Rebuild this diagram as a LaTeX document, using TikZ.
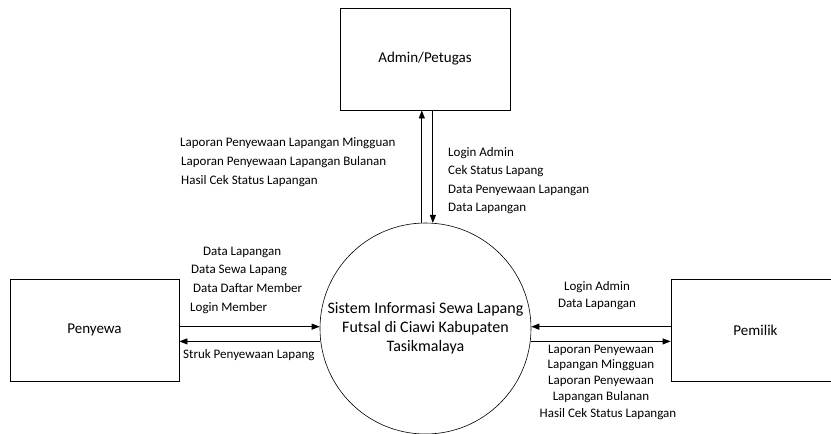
\documentclass[tikz,border=0pt]{standalone}
\usepackage{fontspec}
\setmainfont{Carlito}
\usetikzlibrary{arrows.meta}

\begin{document}
\begin{tikzpicture}[x=1pt,y=-1pt,
  entity/.style={draw, line width=0.8pt, minimum width=169pt, minimum height=102pt, inner sep=0pt, font=\fontsize{15}{18}\selectfont},
  proc/.style={draw, circle, line width=0.6pt, minimum size=211pt, inner sep=0pt, align=center, font=\fontsize{16}{19}\selectfont},
  flow/.style={line width=0.8pt, -{Triangle[length=8pt,width=6pt]}},
  lbl/.style={inner sep=0pt, font=\fontsize{13}{19}\selectfont}]
\useasboundingbox (0,0) rectangle (831,434);
% entities and the process
\node[entity, minimum width=170pt] (admin) at (425,59) {Admin/Petugas};
\node[entity] (penyewa) at (94.5,330) {Penyewa};
\node[entity] (pemilik) at (755.5,330) {Pemilik};
\node[proc] (sys) at (425.5,328.5) {Sistem Informasi Sewa Lapang\\Futsal di Ciawi Kabupaten\\Tasikmalaya};
% admin flows
\draw[flow] (sys.92) -- (sys.92 |- admin.south);
\draw[flow] (sys.86 |- admin.south) -- (sys.86);
\node[lbl, anchor=west, align=left] (lapadmin) at (180,162) {Laporan Penyewaan Lapangan Mingguan\\\hspace*{1pt}Laporan Penyewaan Lapangan Bulanan\\\hspace*{1pt}Hasil Cek Status Lapangan};
\node[lbl, anchor=west, align=left, font=\fontsize{13}{18.3}\selectfont] (inadmin) at (448,180.5) {Login Admin\\Cek Status Lapang\\Data Penyewaan Lapangan\\Data Lapangan};
% penyewa flows
\draw[flow] (sys.179 -| penyewa.east) -- (sys.179);
\draw[flow] (sys.187) -- (sys.187 -| penyewa.east);
\node[lbl, anchor=west, align=left, font=\fontsize{13}{18.7}\selectfont] (inpenyewa) at (190,280) {\hspace*{13pt}Data Lapangan\\\hspace*{1pt}Data Sewa Lapang\\\hspace*{3pt}Data Daftar Member\\Login Member};
\node[lbl, anchor=west] (struk) at (183,355) {Struk Penyewaan Lapang};
% pemilik flows
\draw[flow] (sys.1 -| pemilik.west) -- (sys.1);
\draw[flow] (sys.353) -- (sys.353 -| pemilik.west);
\node[lbl, align=center, font=\fontsize{13}{17}\selectfont] (inpemilik) at (597,295.5) {Login Admin\\Data Lapangan};
\node[lbl, align=center, font=\fontsize{13}{15.7}\selectfont] (lappemilik) at (601,373.5) {Laporan Penyewaan\\Lapangan Mingguan\\Laporan Penyewaan\\Lapangan Bulanan};
\node[lbl] (hasilpemilik) at (608,414) {Hasil Cek Status Lapangan};
\end{tikzpicture}
\end{document}
